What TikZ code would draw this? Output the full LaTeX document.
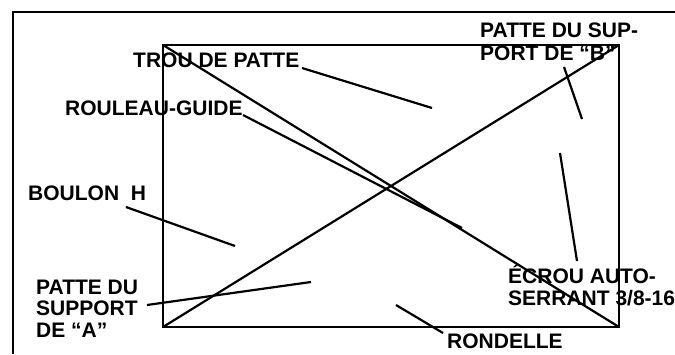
\documentclass[tikz,border=0pt]{standalone}
\usepackage{fontspec}
\setmainfont{Liberation Sans}
\begin{document}
\begin{tikzpicture}[x=1pt,y=-1pt,
  lbl/.style={font=\bfseries\fontsize{21}{22}\selectfont, inner sep=0pt, anchor=base west},
  ln/.style={line width=2.2pt, line cap=butt}]
\useasboundingbox (0,0) rectangle (675,354);
% outer frame
\coordinate (f1) at (675,12);
\coordinate (f2) at (13,12);
\coordinate (f3) at (13,354);
\draw[ln] (f1) -- (f2) -- (f3);
% inner rectangle
\coordinate (tl) at (163,45);
\coordinate (tr) at (619,45);
\coordinate (br) at (619,327);
\coordinate (bl) at (163,327);
\draw[ln] (tl) -- (tr) -- (br) -- (bl) -- cycle;
\draw[ln] (tl) -- (br);
\draw[ln] (bl) -- (tr);
% labels
\node[lbl] (trou) at (133,67) {TROU DE PATTE};
\node[lbl] (roul) at (65,115) {ROULEAU-GUIDE};
\node[lbl] (pb1) at (480,37) {PATTE DU SUP-};
\node[lbl] (pb2) at (480,60) {PORT DE “B”};
\node[lbl] (boul) at (28,200) {BOULON\ \ H};
\node[lbl] (pa1) at (36,294) {PATTE DU};
\node[lbl] (pa2) at (36,315.5) {SUPPORT};
\node[lbl] (pa3) at (36,337) {DE “A”};
\node[lbl] (ecr1) at (508,283) {ÉCROU AUTO-};
\node[lbl] (ecr2) at (508,305) {SERRANT 3/8-16};
\node[lbl] (rond) at (447,348) {RONDELLE};
% leaders
\coordinate (trouA) at (302,68);  \coordinate (trouB) at (432,108);
\coordinate (roulA) at (243,115); \coordinate (roulB) at (462,228);
\coordinate (pbA) at (564,67);    \coordinate (pbB) at (582,119);
\coordinate (ecrA) at (577,261);  \coordinate (ecrB) at (560,153);
\coordinate (boulA) at (126,207); \coordinate (boulB) at (235,246);
\coordinate (paA) at (147,305);   \coordinate (paB) at (311,282);
\coordinate (rondA) at (443,333); \coordinate (rondB) at (396,305);
\draw[ln] (trouA) -- (trouB);
\draw[ln] (roulA) -- (roulB);
\draw[ln] (pbA) -- (pbB);
\draw[ln] (ecrA) -- (ecrB);
\draw[ln] (boulA) -- (boulB);
\draw[ln] (paA) -- (paB);
\draw[ln] (rondA) -- (rondB);
\end{tikzpicture}
\end{document}
